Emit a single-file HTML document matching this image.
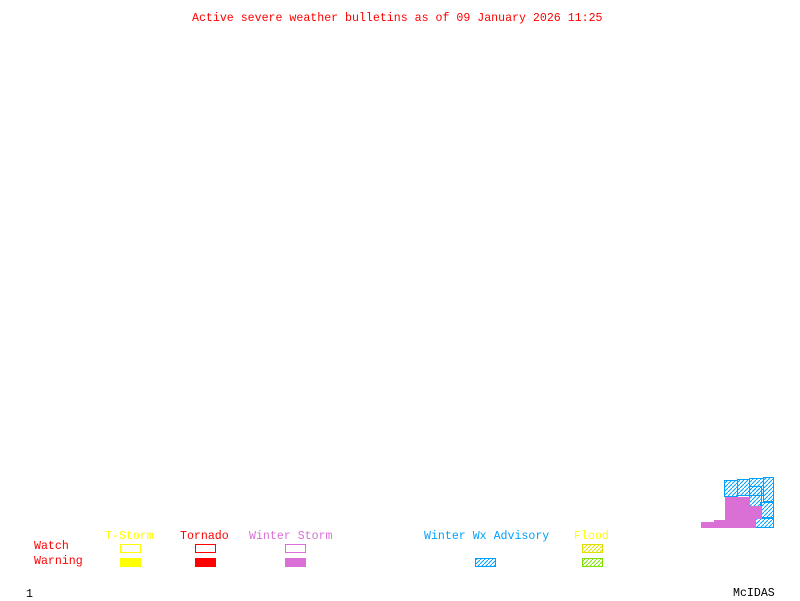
<html><head><style>
body{margin:0;background:#fff;width:800px;height:600px;position:relative;overflow:hidden;font-family:"Liberation Mono",monospace;font-size:11.6px}
.t{position:absolute;white-space:pre;line-height:12px}
.b{position:absolute;box-sizing:border-box;width:21px;height:9px}
</style></head><body>
<svg width="800" height="600" style="position:absolute;left:0;top:0">
<defs>
<pattern id="hb" width="4" height="4" patternUnits="userSpaceOnUse"><path d="M-1,5 L5,-1" stroke="#00a0ff" stroke-width="1"/></pattern>
<pattern id="hg" width="4" height="4" patternUnits="userSpaceOnUse"><path d="M-1,5 L5,-1" stroke="#80e000" stroke-width="1"/></pattern>
<pattern id="hy" width="4" height="4" patternUnits="userSpaceOnUse"><path d="M-1,5 L5,-1" stroke="#e0e000" stroke-width="1"/></pattern>
</defs>
<g fill="url(#hb)" stroke="#00a0ff" stroke-width="1">
<rect x="724.5" y="480.5" width="13" height="16"/>
<rect x="737.5" y="479.5" width="12" height="16"/>
<rect x="749.5" y="478.5" width="14" height="17"/>
<rect x="763.5" y="477.5" width="10" height="24"/>
<rect x="749.5" y="486.5" width="12" height="20"/>
<rect x="760.5" y="502.5" width="13" height="15"/>
<rect x="755.5" y="518.5" width="18" height="9"/>
</g>
<g fill="#da70d6">
<rect x="725" y="497" width="25" height="31"/>
<rect x="750" y="506" width="12" height="13"/>
<rect x="750" y="519" width="6" height="9"/>
<rect x="701" y="522" width="24" height="6"/>
<rect x="714" y="520" width="11" height="2"/>
</g>
<rect x="475.5" y="558.5" width="20" height="8" fill="url(#hb)" stroke="#00a0ff"/>
<rect x="582.5" y="544.5" width="20" height="8" fill="url(#hy)" stroke="#e0e000"/>
<rect x="582.5" y="558.5" width="20" height="8" fill="url(#hg)" stroke="#80e000"/>
</svg>
<div class="t" style="left:192px;top:13px;color:#f00">Active severe weather bulletins as of 09 January 2026 11:25</div>
<div class="t" style="left:105px;top:531px;color:#ff0">T-Storm</div>
<div class="t" style="left:180px;top:531px;color:#f00">Tornado</div>
<div class="t" style="left:249px;top:531px;color:#da70d6">Winter Storm</div>
<div class="t" style="left:424px;top:531px;color:#00a0ff">Winter Wx Advisory</div>
<div class="t" style="left:574px;top:531px;color:#ff0">Flood</div>
<div class="t" style="left:34px;top:541px;color:#f00">Watch</div>
<div class="t" style="left:34px;top:556px;color:#f00">Warning</div>
<div class="b" style="left:120px;top:544px;border:1px solid #ff0"></div>
<div class="b" style="left:120px;top:558px;background:#ff0"></div>
<div class="b" style="left:195px;top:544px;border:1px solid #f00"></div>
<div class="b" style="left:195px;top:558px;background:#f00"></div>
<div class="b" style="left:285px;top:544px;border:1px solid #da70d6"></div>
<div class="b" style="left:285px;top:558px;background:#da70d6"></div>
<div class="t" style="left:26px;top:589px;color:#000">1</div>
<div class="t" style="left:733px;top:588px;color:#000">McIDAS</div>
</body></html>
